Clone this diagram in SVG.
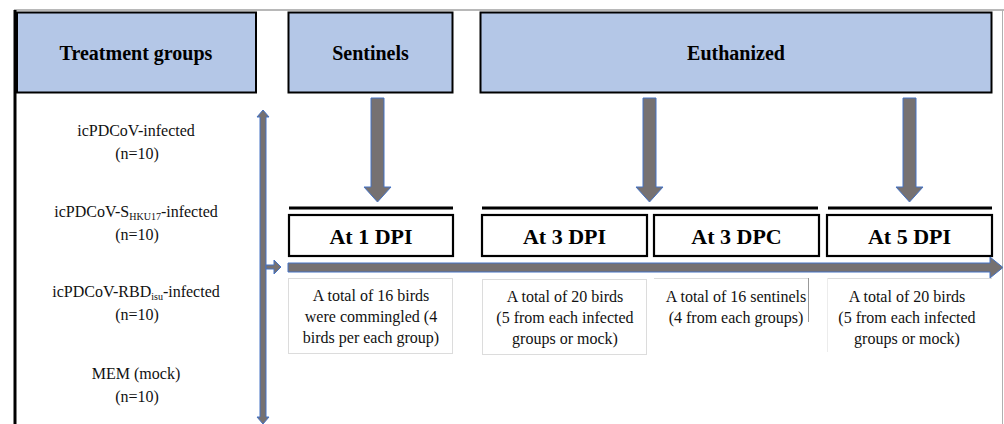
<svg xmlns="http://www.w3.org/2000/svg" width="1004" height="424" viewBox="0 0 1004 424">
<style>
text{font-family:'Liberation Serif','DejaVu Serif',serif}
.hdr{fill:#b4c7e7;stroke:#000;stroke-width:2}
.ht{font-weight:bold;font-size:20px;text-anchor:middle;fill:#000}
.tl{fill:#fff;stroke:#000;stroke-width:2.2}
.tt{font-weight:bold;font-size:22px;text-anchor:middle;fill:#000}
.bar{stroke:#000;stroke-width:3}
.lab{font-size:16px;text-anchor:middle;fill:#111}
.sub{font-size:10px}
.desc{fill:#fff;stroke:#dcdcdc;stroke-width:1}
.arr{fill:#767171;stroke:#4472c4;stroke-width:1}
</style>
<rect x="0" y="0" width="1004" height="424" fill="#fff"/>
<g id="frame">
<line x1="14" y1="10" x2="1004" y2="10" stroke="#a0a0a0" stroke-width="1.5"/>
<line x1="15" y1="10" x2="15" y2="424" stroke="#000" stroke-width="3"/>
<line x1="1002.5" y1="10" x2="1002.5" y2="424" stroke="#b0b0b0" stroke-width="1"/>
</g>
<g id="treatment-groups">
<rect class="hdr" x="17" y="12.5" width="239" height="80"/>
<text class="ht" x="136" y="60">Treatment groups</text>
</g>
<g id="sentinels">
<rect class="hdr" x="288.5" y="12.5" width="164" height="80"/>
<text class="ht" x="370.5" y="60">Sentinels</text>
</g>
<g id="euthanized">
<rect class="hdr" x="480.5" y="12.5" width="511" height="80"/>
<text class="ht" x="736" y="60">Euthanized</text>
</g>
<g id="group-labels">
<text class="lab" x="136" y="136">icPDCoV-infected</text>
<text class="lab" x="137" y="159">(n=10)</text>
<text class="lab" x="136" y="217">icPDCoV-S<tspan class="sub" dy="3">HKU17</tspan><tspan dy="-3">-infected</tspan></text>
<text class="lab" x="137" y="240">(n=10)</text>
<text class="lab" x="136" y="297">icPDCoV-RBD<tspan class="sub" dy="3">isu</tspan><tspan dy="-3">-infected</tspan></text>
<text class="lab" x="137" y="320">(n=10)</text>
<text class="lab" x="136" y="379">MEM (mock)</text>
<text class="lab" x="137" y="402">(n=10)</text>
</g>
<g id="at-1-dpi">
<line class="bar" x1="289" y1="208" x2="453" y2="208"/>
<rect class="tl" x="289" y="215" width="164" height="41"/>
<text class="tt" x="371" y="244">At 1 DPI</text>
</g>
<g id="at-3-dpi">
<line class="bar" x1="482" y1="208" x2="818" y2="208"/>
<rect class="tl" x="482" y="215" width="165" height="41"/>
<text class="tt" x="564.5" y="244">At 3 DPI</text>
</g>
<g id="at-3-dpc">
<rect class="tl" x="654" y="215" width="165" height="41"/>
<text class="tt" x="736.5" y="244">At 3 DPC</text>
</g>
<g id="at-5-dpi">
<line class="bar" x1="828" y1="208" x2="992" y2="208"/>
<rect class="tl" x="827" y="215" width="165" height="41"/>
<text class="tt" x="909.5" y="244">At 5 DPI</text>
</g>
<g id="desc-1">
<rect class="desc" x="288.5" y="278.5" width="164" height="75"/>
<text class="lab" x="371" y="301">A total of 16 birds</text>
<text class="lab" x="371" y="322">were commingled (4</text>
<text class="lab" x="371" y="343">birds per each group)</text>
</g>
<g id="desc-2">
<rect class="desc" x="482.5" y="279.5" width="164" height="75"/>
<text class="lab" x="565" y="302">A total of 20 birds</text>
<text class="lab" x="565" y="323">(5 from each infected</text>
<text class="lab" x="565" y="344">groups or mock)</text>
</g>
<g id="desc-3">
<line x1="654" y1="278.5" x2="808" y2="278.5" stroke="#dcdcdc"/>
<line x1="808.5" y1="278" x2="808.5" y2="322" stroke="#999"/>
<text class="lab" x="736" y="302">A total of 16 sentinels</text>
<text class="lab" x="736" y="323">(4 from each groups)</text>
</g>
<g id="desc-4">
<line x1="827" y1="278.5" x2="992" y2="278.5" stroke="#dcdcdc"/>
<line x1="827.5" y1="278" x2="827.5" y2="352" stroke="#ececec"/>
<text class="lab" x="907" y="302">A total of 20 birds</text>
<text class="lab" x="907" y="323">(5 from each infected</text>
<text class="lab" x="907" y="344">groups or mock)</text>
</g>
<g id="connectors">
<path class="arr" d="M371,98 H384 V187 H391 L377.5,202 L364,187 H371 Z"/>
<path class="arr" d="M643,98 H656 V187 H663 L649.5,202 L636,187 H643 Z"/>
<path class="arr" d="M903,98 H916 V187 H923 L909.5,202 L896,187 H903 Z"/>
<path class="arr" d="M288,263 H990 V257 L1003,267.5 L990,278 V272 H288 Z"/>
<path class="arr" d="M263,110 L269,117 H266 V417 H269 L263,424 L257,417 H260 V117 H257 Z"/>
<path class="arr" d="M266,265 H274 V260 L281,267 L274,274 V269 H266 Z"/>
</g>
</svg>
